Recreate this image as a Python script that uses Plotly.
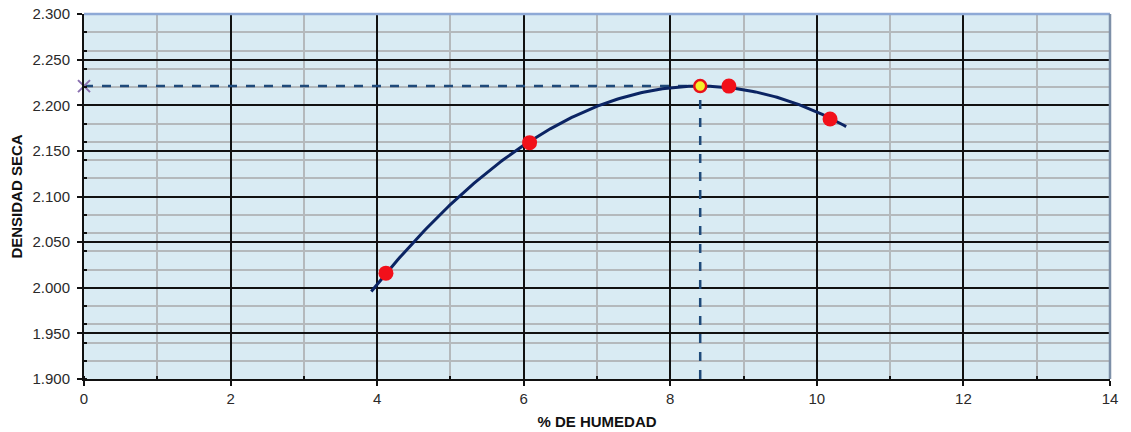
import numpy as np
import plotly.graph_objects as go

# Ensayo Proctor: humedad (%) y densidad seca (g/cm3)
humedad = [4.12, 6.08, 8.80, 10.18]
densidad = [2.016, 2.159, 2.221, 2.185]

x_ticks = [0, 2, 4, 6, 8, 10, 12, 14]
y_ticks = [1.900, 1.950, 2.000, 2.050, 2.100, 2.150, 2.200, 2.250, 2.300]

# Curva de compactación: ajuste polinómico de 2º grado
coef = np.polyfit(humedad, densidad, 2)
x_curva = np.linspace(3.92, 10.40, 200)
y_curva = np.polyval(coef, x_curva)

# Óptimo: vértice de la parábola
hum_opt = -coef[1] / (2 * coef[0])
dens_max = float(np.polyval(coef, hum_opt))

fig = go.Figure()

# Líneas de referencia punteadas hacia los ejes
fig.add_trace(go.Scatter(
    x=[0, hum_opt, hum_opt], y=[dens_max, dens_max, 1.9],
    mode="lines", line=dict(color="#1F4A7A", width=2.5, dash="dash"),
    hoverinfo="skip", showlegend=False, cliponaxis=False))

fig.add_trace(go.Scatter(
    x=x_curva, y=y_curva, mode="lines",
    line=dict(color="#0B2463", width=3), showlegend=False))

fig.add_trace(go.Scatter(
    x=humedad, y=densidad, mode="markers",
    marker=dict(color="#F2101A", size=15), showlegend=False))

fig.add_trace(go.Scatter(
    x=[hum_opt], y=[dens_max], mode="markers",
    marker=dict(color="#F5F02A", size=12, line=dict(color="#E8101A", width=2.5)),
    showlegend=False))

fig.add_trace(go.Scatter(
    x=[0], y=[dens_max], mode="markers",
    marker=dict(symbol="x-thin", color="#8A70B0", size=12, line=dict(color="#8A70B0", width=2)),
    showlegend=False, cliponaxis=False))

tick_font = dict(family="Liberation Sans, Arial, sans-serif", size=15, color="#2A2A2A")
title_font = dict(family="Liberation Sans, Arial, sans-serif", size=15, color="#111111")

fig.update_layout(
    width=1131, height=432,
    margin=dict(l=84, r=21, t=14, b=53),
    paper_bgcolor="white",
    plot_bgcolor="#D9EBF3",
    xaxis=dict(
        range=[0, 14], tickvals=x_ticks, ticktext=[str(v) for v in x_ticks],
        automargin=False,
        showgrid=True, gridcolor="#111111", gridwidth=1.5,
        showline=True, linecolor="#111111", linewidth=2,
        ticks="outside", ticklen=5, tickcolor="#111111", tickwidth=1.5,
        minor=dict(dtick=1, tick0=0, showgrid=True, gridcolor="#B4B9BC", gridwidth=2,
                   ticks="inside", ticklen=3, tickcolor="#111111"),
        tickfont=tick_font, zeroline=False,
        title=dict(text="<b>% DE HUMEDAD</b>", font=title_font, standoff=10),
    ),
    yaxis=dict(
        range=[1.9, 2.3], tickvals=y_ticks, ticktext=[f"{v:.3f}" for v in y_ticks],
        automargin=False, ticklabelstandoff=4,
        showgrid=True, gridcolor="#111111", gridwidth=1.5,
        showline=True, linecolor="#111111", linewidth=2,
        ticks="outside", ticklen=5, tickcolor="#111111", tickwidth=1.5,
        minor=dict(dtick=0.02, tick0=1.9, showgrid=True, gridcolor="#B4B9BC", gridwidth=2,
                   ticks="inside", ticklen=3, tickcolor="#111111"),
        tickfont=tick_font, zeroline=False,
        title=dict(text="<b>DENSIDAD SECA</b>", font=title_font, standoff=6),
    ),
    shapes=[
        dict(type="line", xref="x domain", yref="y domain", x0=0, x1=1, y0=1, y1=1,
             line=dict(color="#8EA9D6", width=2.5)),
        dict(type="line", xref="x domain", yref="y domain", x0=1, x1=1, y0=0, y1=1,
             line=dict(color="#7E90A8", width=2.5)),
    ],
)

fig.write_html("out.html")
